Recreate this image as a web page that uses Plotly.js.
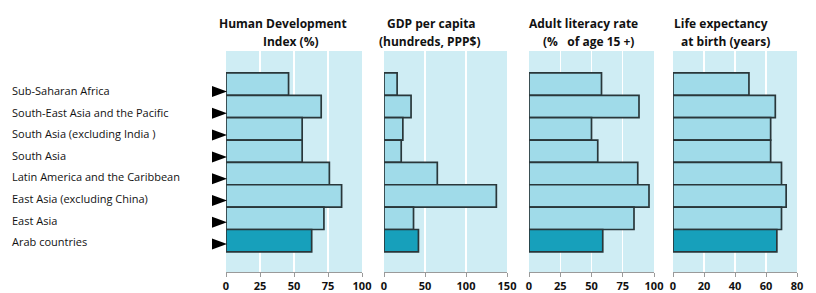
<!DOCTYPE html>
<html>
<head>
<meta charset="utf-8">
<script src="https://cdn.plot.ly/plotly-3.0.1.min.js"></script>
<style>html,body{margin:0;padding:0;background:#fff}#chart{width:816px;height:293px}</style>
</head>
<body>
<div id="chart"></div>
<script>
const categories = [
  "Sub-Saharan Africa",
  "South-East Asia and the Pacific",
  "South Asia (excluding India )",
  "South Asia",
  "Latin America and the Caribbean",
  "East Asia (excluding China)",
  "East Asia",
  "Arab countries"
];
const hdi = [46, 70, 56, 56, 76, 85, 72, 63];
const gdpPerCapita = [16, 33, 23, 21, 65, 137, 36, 42];
const adultLiteracy = [58, 88, 50, 55, 87, 96, 84, 59];
const lifeExpectancy = [49, 66, 63, 63, 70, 73, 70, 67];
const highlighted = "Arab countries";

const panelTitles = [
  ["Human Development", "Index (%)"],
  ["GDP per capita", "(hundreds, PPP$)"],
  ["Adult literacy rate", "(%   of age 15 +)"],
  ["Life expectancy", "at birth (years)"]
];
const tickValues = [
  [0, 25, 50, 75, 100],
  [0, 50, 100, 150],
  [0, 25, 50, 75, 100],
  [0, 20, 40, 60, 80]
];
const axisMax = [100, 150, 100, 80];

const W = 816, H = 293;
const fx = p => p / W;
const fy = p => 1 - p / H;

const series = [hdi, gdpPerCapita, adultLiteracy, lifeExpectancy];
const panelPx = [[226, 362], [384, 507], [529, 654], [673, 797]];
const titleCenters = [[282.5, 291], [431, 430], [583, 588.5], [721, 725]];
const yDomain = [fy(272), fy(51)];

const LIGHT = "#a0dbe9", DARK = "#17a0bb", EDGE = "#29373a";
const barColors = categories.map(c => c === highlighted ? DARK : LIGHT);

const traces = [];
const layout = {
  width: W, height: H,
  margin: {l: 0, r: 0, t: 0, b: 0},
  paper_bgcolor: "#ffffff",
  plot_bgcolor: "#cfedf4",
  showlegend: false,
  bargap: 0,
  annotations: [],
  shapes: [],
  font: {family: "Open Sans", color: "#111"}
};

series.forEach((vals, i) => {
  const xa = i === 0 ? "x" : "x" + (i + 1);
  const ya = i === 0 ? "y" : "y" + (i + 1);
  traces.push({
    type: "bar", orientation: "h",
    x: vals, y: categories,
    xaxis: xa, yaxis: ya,
    marker: {color: barColors, line: {color: EDGE, width: 1.7}},
    hoverinfo: "x+y"
  });
  const xKey = i === 0 ? "xaxis" : "xaxis" + (i + 1);
  const yKey = i === 0 ? "yaxis" : "yaxis" + (i + 1);
  layout[xKey] = {
    domain: [fx(panelPx[i][0]), fx(panelPx[i][1])],
    anchor: ya,
    range: [0, axisMax[i]],
    tickvals: tickValues[i],
    ticktext: tickValues[i].map(String),
    showgrid: true, gridcolor: "#ffffff", gridwidth: 1.2,
    zeroline: false,
    showline: true, linecolor: "#9a9a9a", linewidth: 1,
    ticks: "outside", ticklen: 4, tickcolor: "#9a9a9a",
    ticklabelstandoff: 0,
    tickfont: {family: "Open Sans", size: 11, color: "#111", weight: "bold"},
    fixedrange: true
  };
  layout[yKey] = {
    domain: yDomain,
    anchor: xa,
    type: "category",
    categoryorder: "array", categoryarray: categories,
    range: [8.4, -1.48],
    showticklabels: false, showgrid: false, zeroline: false, showline: false,
    ticks: "", fixedrange: true
  };
  panelTitles[i].forEach((line, k) => {
    layout.annotations.push({
      text: "<b>" + line + "</b>",
      xref: "paper", yref: "paper",
      x: fx(titleCenters[i][k]), y: fy(k === 0 ? 23.5 : 41.5),
      xanchor: "center", yanchor: "middle",
      showarrow: false,
      font: {family: "Open Sans", size: 12, color: "#111"}
    });
  });
});

categories.forEach((c, i) => {
  const ty = 90.5 + i * 21.6;
  layout.annotations.push({
    text: c, xref: "paper", yref: "paper",
    x: fx(10), y: fy(ty), xanchor: "left", yanchor: "middle",
    showarrow: false,
    font: {family: "Open Sans", size: 11, color: "#111"}
  });
  const ay = 91.5 + i * 21.8;
  layout.shapes.push({
    type: "path", xref: "paper", yref: "paper",
    path: `M ${fx(212)} ${fy(ay - 5.5)} L ${fx(227)} ${fy(ay)} L ${fx(212)} ${fy(ay + 5.5)} Z`,
    fillcolor: "#000", line: {width: 0}
  });
});

Plotly.newPlot("chart", traces, layout, {staticPlot: true, displayModeBar: false});
</script>
</body>
</html>
